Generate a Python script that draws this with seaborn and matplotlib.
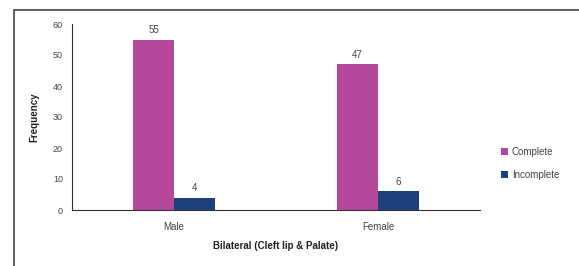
import matplotlib
matplotlib.use("Agg")
import matplotlib.pyplot as plt
import seaborn as sns
import pandas as pd
from matplotlib.patches import Rectangle

categories = ["Male", "Female"]
complete = [55, 47]
incomplete = [4, 6]
series_names = ["Complete", "Incomplete"]

df = pd.DataFrame({
    "group": categories * 2,
    "type": [series_names[0]] * 2 + [series_names[1]] * 2,
    "value": complete + incomplete,
})

sns.set_style("white")
plt.rcParams["font.family"] = ["Liberation Sans", "DejaVu Sans"]

W, H = 579, 266
fig = plt.figure(figsize=(W / 100, H / 100), dpi=100)
fig.patch.set_facecolor("white")

# outer frame of the chart area
fig.patches.append(Rectangle((14 / W, -0.1), 1.2, (H - 10) / H + 0.1,
                             transform=fig.transFigure, fill=False,
                             edgecolor="#444444", linewidth=1.2))

ax = fig.add_axes([72 / W, (H - 210) / H, (480 - 72) / W, (210 - 24) / H])
palette = {"Complete": "#B5489A", "Incomplete": "#1D3F7C"}
sns.barplot(data=df, x="group", y="value", hue="type", palette=palette,
            width=0.4, saturation=1, linewidth=0, ax=ax, legend=True)

for cont in ax.containers:
    ax.bar_label(cont, padding=3, fontsize=7, color="#444444")

ax.set_ylim(0, 60)
ax.set_xlim(-0.5, 1.5)
ax.set_yticks(range(0, 61, 10))
ax.tick_params(axis="y", direction="inout", length=5, labelsize=6.5,
               labelcolor="#444444", color="#333333", pad=4)
ax.tick_params(axis="x", length=0, labelsize=7, labelcolor="#444444", pad=9)
for s in ["top", "right"]:
    ax.spines[s].set_visible(False)
ax.spines["left"].set_color("#333333")
ax.spines["bottom"].set_color("#333333")
ax.set_xlabel("Bilateral (Cleft lip & Palate)", fontsize=7, fontweight="bold",
              color="#222222", labelpad=6)
ax.set_ylabel("Frequency", fontsize=7, fontweight="bold", color="#222222",
              labelpad=10)

leg = ax.legend(loc="center left", bbox_to_anchor=(1.03, 0.25), frameon=False,
                fontsize=7, handlelength=0.7, handleheight=0.7,
                handletextpad=0.4, labelspacing=1.3)
for t in leg.get_texts():
    t.set_color("#444444")

fig.savefig("out.png", dpi=100)
plt.close(fig)
